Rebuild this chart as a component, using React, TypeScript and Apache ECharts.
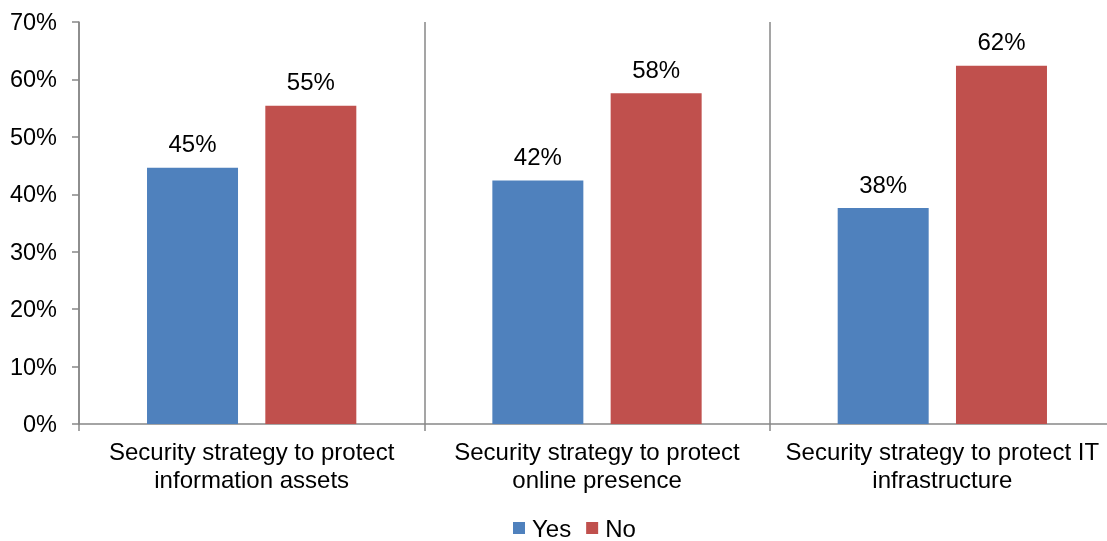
import React, { useEffect, useRef } from "react";
import * as echarts from "echarts";

const categories = [
  "Security strategy to protect\ninformation assets",
  "Security strategy to protect\nonline presence",
  "Security strategy to protect IT\ninfrastructure",
];
const yesValues = [44.6, 42.4, 37.6];
const noValues = [55.4, 57.6, 62.4];
const seriesNames = ["Yes", "No"];

const FONT = "'Liberation Sans', Arial, sans-serif";
const AXIS = "#878787";

export default function App() {
  const ref = useRef<HTMLDivElement>(null);
  useEffect(() => {
    if (!ref.current) return;
    const chart = echarts.init(ref.current, null, { renderer: "svg" });
    const label = {
      show: true,
      position: "top",
      distance: 12,
      color: "#000",
      fontFamily: FONT,
      fontSize: 24,
      formatter: (p: any) => Math.round(p.value) + "%",
    };
    chart.setOption({
      animation: false,
      textStyle: { fontFamily: FONT },
      grid: { left: 79, top: 22, width: 1036, height: 402, containLabel: false },
      legend: {
        data: seriesNames,
        left: 513,
        top: 516,
        padding: 0,
        itemWidth: 12,
        itemHeight: 12,
        itemGap: 15,
        icon: "rect",
        textStyle: { fontFamily: FONT, fontSize: 24, lineHeight: 18, color: "#000", padding: [0, 0, 0, 2] },
      },
      xAxis: {
        type: "category",
        data: categories,
        axisLine: { show: true, lineStyle: { color: AXIS, width: 1.5 } },
        axisTick: { show: true, length: 7, interval: 0, lineStyle: { color: AXIS, width: 1.5 } },
        splitLine: { show: true, interval: 0, lineStyle: { color: AXIS, width: 1.5 } },
        axisLabel: {
          interval: 0,
          margin: 14,
          color: "#000",
          fontFamily: FONT,
          fontSize: 24,
          lineHeight: 27.5,
        },
      },
      yAxis: {
        type: "value",
        min: 0,
        max: 70,
        interval: 10,
        axisLine: { show: true, lineStyle: { color: AXIS, width: 1.5 } },
        axisTick: { show: true, length: 7, lineStyle: { color: AXIS, width: 1.5 } },
        splitLine: { show: false },
        axisLabel: {
          margin: 22,
          color: "#000",
          fontFamily: FONT,
          fontSize: 23.5,
          formatter: "{value}%",
        },
      },
      series: [
        {
          name: seriesNames[0],
          type: "bar",
          data: yesValues,
          barWidth: 91,
          barGap: "30%",
          itemStyle: { color: "#4F81BD" },
          label,
        },
        {
          name: seriesNames[1],
          type: "bar",
          data: noValues,
          barWidth: 91,
          barGap: "30%",
          itemStyle: { color: "#C0504D" },
          label,
        },
      ],
    });
    return () => chart.dispose();
  }, []);
  return (
    <div style={{ position: "fixed", left: 0, top: 0, width: 1107, height: 541, overflow: "hidden" }}>
      <div ref={ref} style={{ width: 1130, height: 541 }} />
    </div>
  );
}
